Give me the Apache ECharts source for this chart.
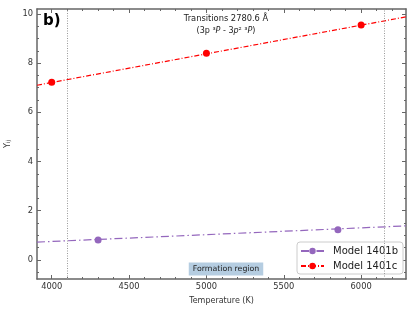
<!DOCTYPE html>
<html><head><meta charset="utf-8">
<script src="https://cdn.jsdelivr.net/npm/echarts@6/dist/echarts.min.js"></script>
<style>html,body{margin:0;padding:0;background:#fff}#c{width:415px;height:312px}</style>
</head><body><div id="c"></div>
<script>
// ---- data ----
const xMajorTicks = [4000, 4500, 5000, 5500, 6000];
const xMinorTicks = [4100, 4200, 4300, 4400, 4600, 4700, 4800, 4900, 5100, 5200, 5300, 5400, 5600, 5700, 5800, 5900, 6100, 6200];
const yMajorTicks = [0, 2, 4, 6, 8, 10];
const yMinorTicks = [-0.5, 0.5, 1, 1.5, 2.5, 3, 3.5, 4.5, 5, 5.5, 6.5, 7, 7.5, 8.5, 9, 9.5];
const xRange = [3905, 6290];
const yRange = [-0.78, 10.2];

const modelBTemps = [4300, 5850];
const modelBValues = [0.81, 1.22];
const modelBFitX = [3905, 6290];
const modelBFitY = [0.72, 1.38];

const modelCTemps = [4000, 5000, 6000];
const modelCValues = [7.22, 8.40, 9.55];
const modelCFitX = [3905, 6290];
const modelCFitY = [7.10, 9.88];

const formationBounds = [4100, 6150];

// ---- chart ----
const FONT = 'DejaVu Sans';
const AX = '#666';
const TXT = '#333';
const zip = (a, b) => a.map((v, i) => [v, b[i]]);

function mkX(pos, vals, len, main) {
  return {
    type: 'value', position: pos, min: xRange[0], max: xRange[1],
    axisLine: { show: main, onZero: false, lineStyle: { color: AX, width: 1.5 } },
    axisTick: { show: true, inside: true, length: len, customValues: vals, lineStyle: { color: AX, width: 1 } },
    axisLabel: (main && pos === 'bottom') ? { show: true, customValues: xMajorTicks, margin: 4, color: TXT, fontSize: 8.3, fontFamily: FONT, formatter: v => String(v) } : { show: false },
    splitLine: { show: false },
    name: (main && pos === 'bottom') ? 'Temperature (K)' : '',
    nameLocation: 'middle', nameGap: 18,
    nameTextStyle: { color: TXT, fontSize: 8, fontFamily: FONT }
  };
}
function mkY(pos, vals, len, main) {
  return {
    type: 'value', position: pos, min: yRange[0], max: yRange[1],
    axisLine: { show: main, onZero: false, lineStyle: { color: AX, width: 1.5 } },
    axisTick: { show: true, inside: true, length: len, customValues: vals, lineStyle: { color: AX, width: 1 } },
    axisLabel: (main && pos === 'left') ? { show: true, customValues: yMajorTicks, margin: 4, color: TXT, fontSize: 8.3, fontFamily: FONT, formatter: v => String(v) } : { show: false },
    splitLine: { show: false },
    name: (main && pos === 'left') ? '{y|Y}{s|ij}' : '',
    nameLocation: 'middle', nameGap: 20, nameRotate: 90,
    nameTextStyle: { color: TXT, fontFamily: FONT, verticalAlign: 'bottom', rich: {
      y: { fontSize: 8, fontFamily: FONT, color: TXT, lineHeight: 10, verticalAlign: 'bottom' },
      s: { fontSize: 5.5, fontFamily: FONT, color: TXT, lineHeight: 6, verticalAlign: 'bottom' }
    } }
  };
}

const chart = echarts.init(document.getElementById('c'), null, { renderer: 'canvas' });
chart.setOption({
  animation: false,
  backgroundColor: '#fff',
  grid: { left: 37, right: 9, top: 9, bottom: 33, containLabel: false, outerBoundsMode: 'none' },
  xAxis: [
    mkX('bottom', xMajorTicks, 4, true),
    mkX('bottom', xMinorTicks, 2, false),
    mkX('top', xMajorTicks, 4, true),
    mkX('top', xMinorTicks, 2, false)
  ],
  yAxis: [
    mkY('left', yMajorTicks, 4, true),
    mkY('left', yMinorTicks, 2, false),
    mkY('right', yMajorTicks, 4, true),
    mkY('right', yMinorTicks, 2, false)
  ],
  legend: {
    left: 297, top: 242, orient: 'vertical',
    padding: [3, 5, 2, 3], itemGap: 3, itemWidth: 23, itemHeight: 8,
    borderColor: '#ccc', borderWidth: 1, borderRadius: 3, backgroundColor: '#fff',
    textStyle: { fontSize: 10, fontFamily: FONT, color: '#222', padding: [0, 0, 0, 4], lineHeight: 12 },
    data: ['Model 1401b', 'Model 1401c']
  },
  graphic: [
    { type: 'text', left: 43, top: 14, z: 100,
      style: { text: 'b)', font: 'bold 15px "DejaVu Sans"', fill: '#000' } },
    { type: 'text', z: 100,
      style: { x: 226, y: 19, text: 'Transitions 2780.6 Å', align: 'center', verticalAlign: 'middle',
        font: '8.3px "DejaVu Sans"', fill: '#222' } },
    { type: 'text', z: 100,
      style: { x: 226, y: 31, text: '(3p ³{i|P} - 3{i|p}² ³{i|P})', align: 'center', verticalAlign: 'middle',
        font: '8px "DejaVu Sans"', fill: '#222',
        rich: { i: { fontStyle: 'italic', fontSize: 8, fontFamily: FONT, fill: '#222' } } } },
    { type: 'text', z: 100,
      style: { x: 226, y: 269, text: 'Formation region', align: 'center', verticalAlign: 'middle',
        font: '7.8px "DejaVu Sans"', fill: '#222', backgroundColor: '#b5cde1', padding: [3, 4, 2, 4] } }
  ],
  series: [
    { name: 'bounds', type: 'line', data: [], xAxisIndex: 0, yAxisIndex: 0, silent: true,
      markLine: { silent: true, symbol: 'none', label: { show: false },
        lineStyle: { color: '#999', width: 1, type: [1, 1.5] },
        data: formationBounds.map(v => ({ xAxis: v })) } },
    { name: 'Model 1401b', type: 'line', data: zip(modelBFitX, modelBFitY), showSymbol: false,
      symbol: 'circle', symbolSize: 7,
      itemStyle: { color: '#9467bd' },
      lineStyle: { color: '#9467bd', width: 1.2, type: [8, 3, 1.5, 3] } },
    { name: 'pts b', type: 'scatter', data: zip(modelBTemps, modelBValues), symbol: 'circle', symbolSize: 7,
      itemStyle: { color: '#9467bd', opacity: 1 } },
    { name: 'Model 1401c', type: 'line', data: zip(modelCFitX, modelCFitY), showSymbol: false,
      symbol: 'circle', symbolSize: 7,
      itemStyle: { color: '#ff0000' },
      lineStyle: { color: '#ff0000', width: 1.2, type: [5, 2, 1, 2] } },
    { name: 'pts c', type: 'scatter', data: zip(modelCTemps, modelCValues), symbol: 'circle', symbolSize: 7,
      itemStyle: { color: '#ff0000', opacity: 1 } }
  ]
});
</script>
</body></html>
